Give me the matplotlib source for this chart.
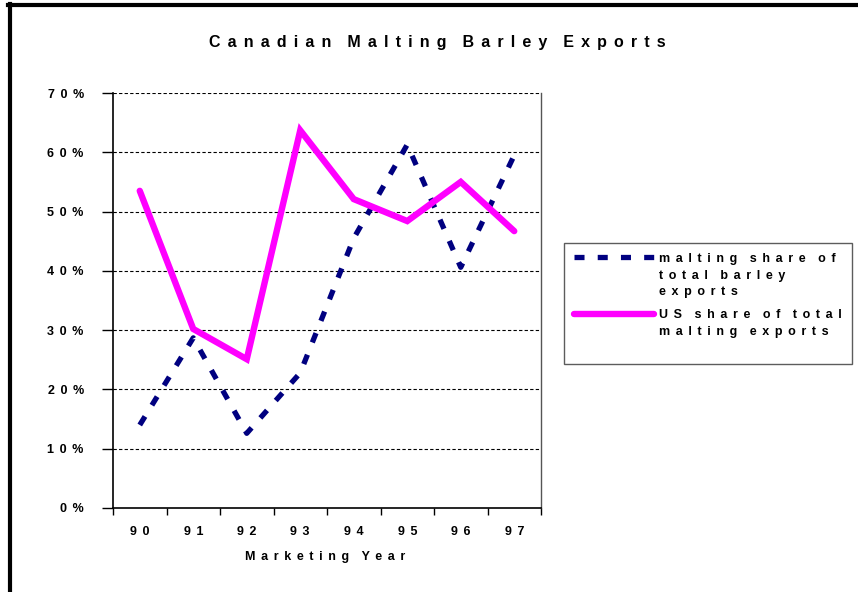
import matplotlib
matplotlib.use("Agg")
import matplotlib.pyplot as plt
from matplotlib.lines import Line2D

years = ["90", "91", "92", "93", "94", "95", "96", "97"]
malting_share = [14.0, 28.7, 12.6, 22.8, 45.5, 61.3, 40.6, 59.5]
us_share = [53.5, 30.2, 25.1, 63.7, 52.1, 48.4, 55.0, 46.7]
y_ticks = [0, 10, 20, 30, 40, 50, 60, 70]

title = "Canadian Malting Barley Exports"
xlabel = "Marketing Year"
label_malt = "malting share of\ntotal barley\nexports"
label_us = "US share of total\nmalting exports"

LSEP = " \u2006"        # letter spacing
WSEP = "\u2002\u2002"   # word spacing


def spaced(s):
    out = []
    for ln in s.split("\n"):
        out.append(WSEP.join(LSEP.join(w) for w in ln.split(" ")))
    return "\n".join(out)


plt.rcParams["font.family"] = ["Liberation Sans", "DejaVu Sans"]
plt.rcParams["font.weight"] = "bold"

W, H = 858, 592
fig = plt.figure(figsize=(W / 100, H / 100), dpi=100)
ax = fig.add_axes([113 / W, 1 - 508 / H, (541 - 113) / W, (508 - 93) / H])

x = list(range(len(years)))
ax.plot(x, malting_share, color="#000080", lw=3.8, linestyle=(0, (1.9, 2.5)),
        dash_capstyle="butt", solid_joinstyle="miter", label=spaced(label_malt), zorder=3)
ax.plot(x, us_share, color="#FF00FF", lw=4.6, solid_capstyle="round",
        solid_joinstyle="miter", label=spaced(label_us) + "\n ", zorder=4)

ax.set_xlim(-0.5, len(years) - 0.5)
ax.set_ylim(0, 70)
ax.set_yticks(y_ticks)
ax.set_yticklabels([spaced(f"{v}%") for v in y_ticks], fontsize=9, fontweight="bold")
ax.set_xticks(x)
ax.set_xticklabels([spaced(y) for y in years], fontsize=9, fontweight="bold")
ax.set_xticks([i - 0.5 for i in range(len(years) + 1)], minor=True)
ax.tick_params(axis="x", which="major", length=0, pad=13)
ax.tick_params(axis="x", which="minor", length=5, width=1, color="black", direction="out")
ax.tick_params(axis="y", which="major", length=8, width=1, color="black", direction="out", pad=13)

for v in y_ticks[1:]:
    ax.axhline(v, color="black", lw=0.8, linestyle=(0, (3, 2)), zorder=1)

ax.spines["top"].set_visible(False)
ax.spines["right"].set_color("#555555")
ax.spines["right"].set_linewidth(1)
ax.spines["left"].set_linewidth(1.2)
ax.spines["bottom"].set_linewidth(1.2)

fig.text(437 / W, 1 - 42 / H, spaced(title), ha="center", va="center",
         fontsize=11.5, fontweight="bold")
fig.text(325 / W, 1 - 557 / H, spaced(xlabel), ha="center", va="center",
         fontsize=9, fontweight="bold")

leg = ax.legend(loc="upper left", bbox_to_anchor=(564 / W, 1 - 243 / H),
                bbox_transform=fig.transFigure, fontsize=9, frameon=True,
                fancybox=False, edgecolor="#333333", handlelength=6.4,
                handletextpad=0.4, borderpad=0.8, labelspacing=0.9,
                borderaxespad=0)
leg.get_frame().set_linewidth(1)
for t in leg.get_texts():
    t.set_linespacing(1.5)
try:
    for hp in leg._legend_handle_box.get_children():
        for row in hp.get_children():
            row.align = "top"
except Exception:
    pass

# outer border (top and left)
fig.add_artist(Line2D([8 / W, 1.0], [1 - 5 / H, 1 - 5 / H], color="black", lw=3,
                      transform=fig.transFigure))
fig.add_artist(Line2D([10 / W, 10 / W], [0, 1 - 4 / H], color="black", lw=3,
                      transform=fig.transFigure))

fig.savefig("out.png", dpi=100)
